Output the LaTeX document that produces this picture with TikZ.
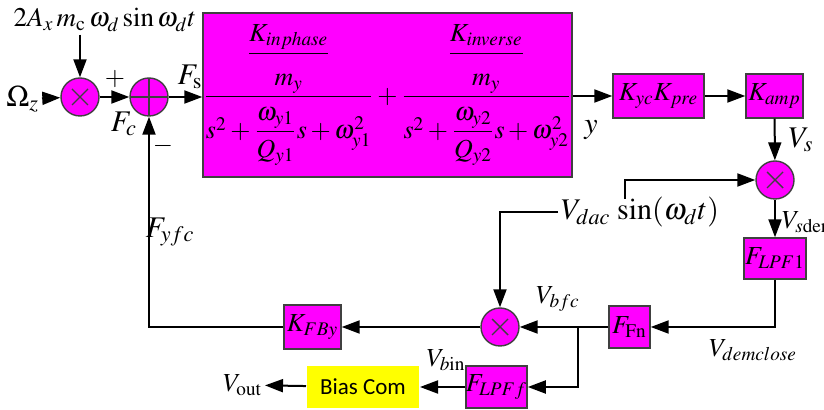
\documentclass[tikz,border=0pt]{standalone}
\usepackage{amsmath}
\usepackage{mathptmx}
\usepackage[no-math]{fontspec}
\setmainfont{Liberation Serif}
\newfontfamily\biasfont{Carlito}
\usetikzlibrary{arrows.meta, positioning, calc}
\definecolor{magblk}{RGB}{255,0,255}
\definecolor{yelblk}{RGB}{255,255,0}

\begin{document}
\begin{tikzpicture}[
  x=0.5pt, y=-0.5pt,
  >={Triangle[length=9pt,width=6.5pt]},
  font=\fontsize{13}{15}\selectfont,
  line width=1pt,
  blk/.style={rectangle, draw=black!75, line width=0.7pt, fill=magblk, inner sep=0pt, align=center},
  mulc/.style={circle, draw=black!75, line width=0.7pt, fill=magblk, minimum size=19pt, inner sep=0pt,
    path picture={\draw[line width=0.7pt] ([shift={(-8,-8)}]path picture bounding box.center) -- ([shift={(8,8)}]path picture bounding box.center)
      ([shift={(-8,8)}]path picture bounding box.center) -- ([shift={(8,-8)}]path picture bounding box.center);}},
  sumc/.style={circle, draw=black!75, line width=0.7pt, fill=magblk, minimum size=19pt, inner sep=0pt,
    path picture={\draw[line width=1.2pt] (path picture bounding box.north) -- (path picture bounding box.south)
      (path picture bounding box.west) -- (path picture bounding box.east);}},
  lbl/.style={inner sep=1pt},
  biglbl/.style={inner sep=1pt, font=\fontsize{15}{17}\selectfont}
]
\useasboundingbox (0,0) rectangle (824,410);
% -------------------------------------------------------------------------
% FORWARD PATH
% -------------------------------------------------------------------------
\node[mulc] (mul_in) at (80,97) {};
\node[sumc] (sum_f) at (149,97) {};
\node[biglbl, anchor=east] (omega) at (42,99) {$\Omega_z$};
\node[lbl, font=\fontsize{13.5}{16}\selectfont] (drive) at (105,20) {$2A_x\,m_{\mathrm{c}}\,\omega_d \sin\omega_d t$};
\node[blk, minimum width=184.5pt, minimum height=82pt] (plant) at (387.5,95)
  {$\dfrac{\dfrac{K_{inphase}\rule[-4pt]{0pt}{4pt}}{\rule{0pt}{14pt}m_y}\rule[-7pt]{0pt}{0pt}}{\rule{0pt}{19pt}s^2+\dfrac{\omega_{y1}\rule[-3pt]{0pt}{0pt}}{\rule{0pt}{11pt}Q_{y1}}s+\omega_{y1}^2}
   +\dfrac{\dfrac{K_{inverse}\rule[-4pt]{0pt}{4pt}}{\rule{0pt}{14pt}m_y}\rule[-7pt]{0pt}{0pt}}{\rule{0pt}{19pt}s^2+\dfrac{\omega_{y2}\rule[-3pt]{0pt}{0pt}}{\rule{0pt}{11pt}Q_{y2}}s+\omega_{y2}^2}$};
\node[blk, minimum width=45.5pt, minimum height=22pt] (kyc) at (658.5,96) {$K_{yc}K_{pre}$};
\node[blk, minimum width=28.5pt, minimum height=22pt] (kamp) at (774.5,96) {$K_{amp}$};
\node[mulc] (mul_dem) at (775,180) {};
\node[blk, minimum width=31pt, minimum height=20.5pt] (lpf1) at (775,258.5) {$F_{LPF\mathrm{1}}$};

% -------------------------------------------------------------------------
% FEEDBACK PATH
% -------------------------------------------------------------------------
\node[blk, minimum width=20.5pt, minimum height=21pt] (ffn) at (629.5,327) {$F_{\mathrm{Fn}}$};
\node[mulc] (mul_fb) at (500,327) {};
\node[blk, minimum width=28.5pt, minimum height=22pt] (kfby) at (312.5,327) {$K_{FBy}$};
\node[blk, minimum width=30.5pt, minimum height=21pt] (lpff) at (496.5,387) {$F_{LPFf}$};
\node[rectangle, fill=yelblk, minimum width=56pt, minimum height=21pt, font=\biasfont\fontsize{11.5}{13}\selectfont] (bias) at (363,387) {Bias Com};
\node[lbl, anchor=east] (vout) at (265,385) {$V_{\mathrm{out}}$};
\node[biglbl] (vdac) at (640,212) {$V_{dac}\,\sin(\omega_d t)$};
\coordinate (vdac_up) at (625,199);
\coordinate (branch) at (578,327);

% signal labels
\node[lbl] at (115,79) {$+$};
\node[biglbl] at (124,124) {$F_c$};
\node[biglbl] at (190,77) {$F_{\mathrm{s}}$};
\node[lbl] at (163,146) {$-$};
\node[biglbl] at (591,130) {$y$};
\node[biglbl] at (801,140) {$V_s$};
\node[lbl, anchor=west] at (779,222) {$V_{s\mathrm{dem}}$};
\node[lbl] at (753,350) {$V_{demclose}$};
\node[lbl] at (558,299) {$V_{bfc}$};
\node[biglbl] at (170,232) {$F_{yfc}$};
\node[lbl] at (446,360) {$V_{b\mathrm{in}}$};

% connectors
\draw[->] (omega) -- (mul_in);
\draw[->] (drive.south -| mul_in) -- (mul_in);
\draw[->] (mul_in) -- (sum_f);
\draw[->] (sum_f) -- (sum_f -| plant.west);
\draw[->] (plant.east |- kyc) -- (kyc);
\draw[->] (kyc) -- (kamp);
\draw[->] (kamp) -- (mul_dem);
\draw[->] (vdac_up) |- (mul_dem);
\draw[->] (mul_dem) -- (lpf1);
\draw[->] (lpf1.south) |- (ffn.east);
\draw[->] (ffn) -- (mul_fb);
\draw[->] (vdac.west) -| (mul_fb);
\draw[->] (mul_fb) -- (kfby);
\draw[->] (kfby.west) -| (sum_f);
\draw[->] (branch) |- (lpff.east);
\draw[->] (lpff) -- (bias);
\draw[->] (bias) -- (vout);
\end{tikzpicture}
\end{document}
